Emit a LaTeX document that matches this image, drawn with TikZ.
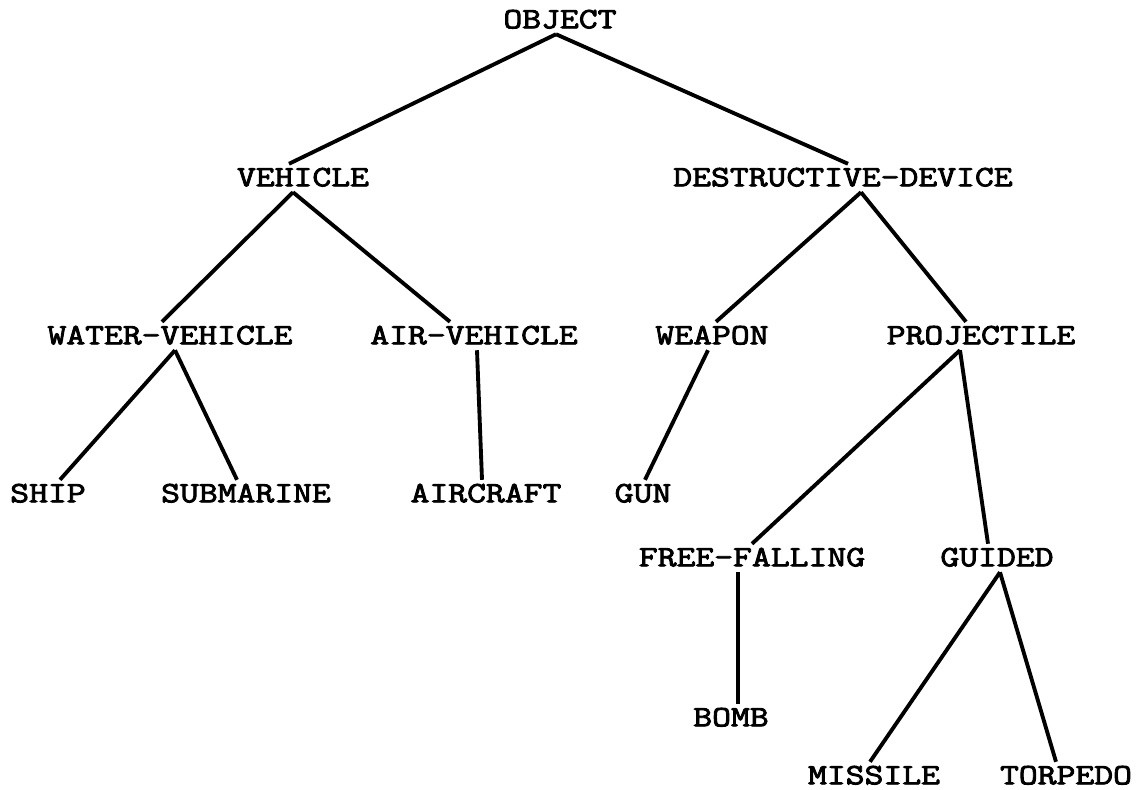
\documentclass[tikz,border=0pt]{standalone}
\usepackage{fontspec}
\newfontfamily\typefont[FakeStretch=1.24,FakeBold=3]{Latin Modern Mono}
\begin{document}
\begin{tikzpicture}[x=0.02cm,y=-0.02cm,line width=2.2pt,
    every node/.style={font=\typefont\fontsize{16.8}{18}\selectfont,
      inner sep=0pt,outer ysep=3.4pt,text height=9.4pt,text depth=0pt}]
      \useasboundingbox (0,0) rectangle (1137,789);
      \draw
        (560,20) node (object){OBJECT}
        (303,178) node (vehicle){VEHICLE}
        (843,178) node (destructive){DESTRUCTIVE-DEVICE}
        (170,336) node (water){WATER-VEHICLE}
        (474,336) node (air){AIR-VEHICLE}
        (712,336) node (weapon){WEAPON}
        (981,336) node (projectile){PROJECTILE}
        (48,494) node (ship){SHIP}
        (246,494) node (submarine){SUBMARINE}
        (486,494) node (aircraft){AIRCRAFT}
        (643,494) node (gun){GUN}
        (752,558) node (freefalling){FREE-FALLING}
        (997,558) node (guided){GUIDED}
        (731,718) node (bomb){BOMB}
        (874,776) node (missile){MISSILE}
        (1066,776) node (torpedo){TORPEDO};
      \begin{scope}[-]
        \draw ([shift={(-4,0)}]object.south) to ([shift={(-14,0)}]vehicle.north);
        \draw ([shift={(-4,0)}]object.south) to ([shift={(5,0)}]destructive.north);
        \draw ([shift={(-10,0)}]vehicle.south) to ([shift={(-8,0)}]water.north);
        \draw ([shift={(-10,0)}]vehicle.south) to ([shift={(-24,0)}]air.north);
        \draw ([shift={(18,0)}]destructive.south) to ([shift={(4,0)}]weapon.north);
        \draw ([shift={(18,0)}]destructive.south) to ([shift={(-15,0)}]projectile.north);
        \draw ([shift={(5,0)}]water.south) to ([shift={(12,0)}]ship.north);
        \draw ([shift={(5,0)}]water.south) to ([shift={(-9,0)}]submarine.north);
        \draw ([shift={(3,0)}]air.south) to ([shift={(-4,0)}]aircraft.north);
        \draw ([shift={(-4,0)}]weapon.south) to ([shift={(2,0)}]gun.north);
        \draw ([shift={(-21,0)}]projectile.south) to (freefalling.north);
        \draw ([shift={(-21,0)}]projectile.south) to ([shift={(-9,0)}]guided.north);
        \draw ([shift={(-14,0)}]freefalling.south) to ([shift={(7,0)}]bomb.north);
        \draw ([shift={(3,0)}]guided.south) to ([shift={(-4,0)}]missile.north);
        \draw ([shift={(3,0)}]guided.south) to ([shift={(-10,0)}]torpedo.north);
      \end{scope}
    \end{tikzpicture}
\end{document}
